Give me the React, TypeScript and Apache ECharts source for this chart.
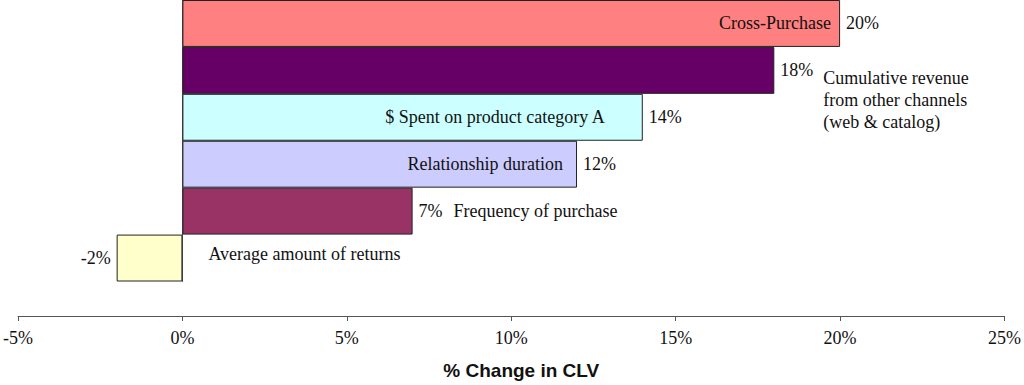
import React, { useEffect, useRef } from "react";
import * as echarts from "echarts";

const categories = [
  "Cross-Purchase",
  "Cumulative revenue\nfrom other channels\n(web & catalog)",
  "$ Spent on product category A",
  "Relationship duration",
  "Frequency of purchase",
  "Average amount of returns",
];
const values = [20, 18, 14, 12, 7, -2];
const barColors = ["#FF8080", "#660066", "#CCFFFF", "#CCCCFF", "#993366", "#FFFFCC"];
const xMin = -5;
const xMax = 25;
const xInterval = 5;
const axisTitle = "% Change in CLV";

// label placement (style only)
const namePlacement: any[] = [
  { position: "insideRight", distance: 9 },
  { position: "right", distance: 49, offset: [0, 30], align: "left", lineHeight: 22 },
  { position: "insideRight", distance: 38 },
  { position: "insideRight", distance: 14 },
  { position: "right", distance: 41 },
  { position: "right", distance: 26, offset: [0, -4] },
];

const SERIF = "'Liberation Serif', 'Times New Roman', serif";

export default function App() {
  const ref = useRef<HTMLDivElement>(null);
  useEffect(() => {
    document.body.style.margin = "0";
    if (!ref.current) return;
    const chart = echarts.init(ref.current, undefined, { renderer: "svg" });
    chart.setOption({
      animation: false,
      grid: { left: 14, right: 19, top: 0, bottom: 103.5, containLabel: false },
      xAxis: {
        type: "value",
        min: xMin,
        max: xMax,
        interval: xInterval,
        offset: 34.5,
        axisLine: { show: true, onZero: false, lineStyle: { color: "#555", width: 1 } },
        axisTick: { show: true, length: 5, lineStyle: { color: "#555" } },
        splitLine: { show: false },
        axisLabel: {
          formatter: "{value}%",
          fontFamily: SERIF,
          fontSize: 18,
          color: "#111",
          margin: 13,
        },
        name: axisTitle,
        nameLocation: "middle",
        nameGap: 45,
        nameTextStyle: {
          fontFamily: "'Liberation Sans', Arial, sans-serif",
          fontWeight: "bold",
          fontSize: 19,
          color: "#111",
          padding: [0, 0, 0, 20],
        },
      },
      yAxis: {
        type: "category",
        inverse: true,
        data: categories,
        axisLine: { show: true, onZero: true, lineStyle: { color: "#555", width: 1 } },
        axisTick: { show: false },
        axisLabel: { show: false },
        splitLine: { show: false },
      },
      series: [
        {
          type: "bar",
          barCategoryGap: "0%",
          barGap: "-100%",
          data: values.map((v, i) => ({
            value: v,
            itemStyle: { color: barColors[i] },
            label: { position: v < 0 ? "left" : "right" },
          })),
          itemStyle: { borderColor: "#222", borderWidth: 1 },
          label: {
            show: true,
            distance: 6,
            formatter: (p: any) => `${p.value}%`,
            fontFamily: SERIF,
            fontSize: 18,
            color: "#111",
          },
        },
        {
          type: "bar",
          barCategoryGap: "0%",
          barGap: "-100%",
          silent: true,
          data: values.map((v, i) => ({
            value: v,
            label: namePlacement[i],
          })),
          itemStyle: { color: "rgba(0,0,0,0)", borderWidth: 0 },
          label: {
            show: true,
            formatter: "{b}",
            fontFamily: SERIF,
            fontSize: 18,
            color: "#111",
          },
        },
      ],
    });
    return () => chart.dispose();
  }, []);
  return <div ref={ref} style={{ width: 1024, height: 385 }} />;
}
